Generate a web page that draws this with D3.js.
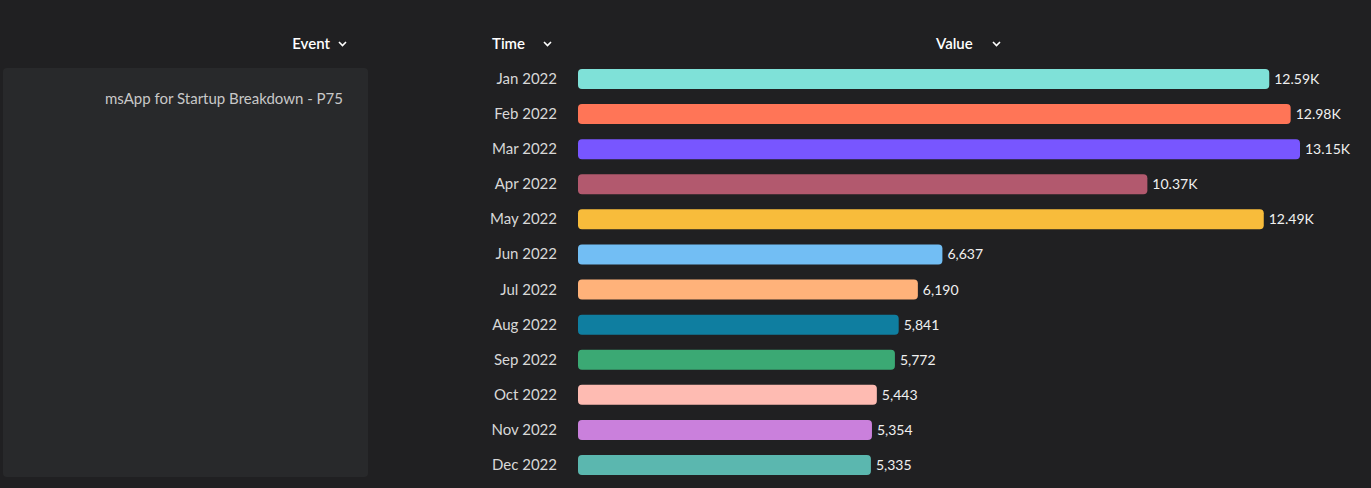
<!DOCTYPE html>
<html><head><meta charset="utf-8">
<script src="https://cdn.jsdelivr.net/npm/d3@7"></script>
<style>
body{margin:0;background:#202022;overflow:hidden}
text{font-family:Lato,"Noto Sans",sans-serif}
</style></head><body>
<svg id="chart" width="1371" height="488"></svg>
<script>
const months= ["Jan 2022","Feb 2022","Mar 2022","Apr 2022","May 2022","Jun 2022","Jul 2022","Aug 2022","Sep 2022","Oct 2022","Nov 2022","Dec 2022"];
const values= [12590,12980,13150,10370,12490,6637,6190,5841,5772,5443,5354,5335];
const valueLabels= ["12.59K","12.98K","13.15K","10.37K","12.49K","6,637","6,190","5,841","5,772","5,443","5,354","5,335"];
const colors= ["#7fe1d8","#ff7557","#7856ff","#b2596e","#f8bc3b","#72bef4","#ffb27a","#0f7ea0","#3ba974","#febbb2","#ca80dc","#5bb7af"];

const svg= d3.select("#chart");

svg.append("rect").attr("x",3).attr("y",68).attr("width",365).attr("height",409).attr("rx",4).attr("fill","#28292b");
svg.append("text").attr("x",343).attr("y",104).attr("text-anchor","end").attr("fill","#c8c8c8").attr("font-size",15).text("msApp for Startup Breakdown - P75");

function header(x, label, anchor){
    const g= svg.append("g");
    g.append("text").attr("x",x).attr("y",49).attr("text-anchor",anchor).attr("fill","#fff").attr("font-size",15).attr("font-weight",600).text(label);
}
header(330,"Event","end");
header(492,"Time","start");
header(936,"Value","start");
[[339,44],[544,44],[993,44]].forEach(([x,y])=>{
    svg.append("path").attr("d",`M${x},${y-2} l3.5,3.5 l3.5,-3.5`).attr("stroke","#fff").attr("stroke-width",1.6).attr("fill","none");
});

const x= d3.scaleLinear().domain([0,13150]).range([578,1300]);
const y= d3.scaleBand().domain(months).range([62,482]).paddingInner(0.43).paddingOuter(0.2);

svg.selectAll(".bar").data(values).enter().append("rect")
    .attr("x",x(0)).attr("y",(d,i)=>y(months[i]))
    .attr("width",d=>x(d)-x(0)).attr("height",y.bandwidth())
    .attr("rx",4).attr("fill",(d,i)=>colors[i]);

svg.selectAll(".m").data(months).enter().append("text")
    .attr("x",557).attr("y",d=>y(d)+y.bandwidth()/2+5)
    .attr("text-anchor","end").attr("fill","#d8d8d8").attr("font-size",15).text(d=>d);

svg.selectAll(".v").data(values).enter().append("text")
    .attr("x",d=>x(d)+5).attr("y",(d,i)=>y(months[i])+y.bandwidth()/2+5)
    .attr("fill","#f0f0f0").attr("font-size",14).attr("font-family","DejaVu Sans Mono, monospace")
    .text((d,i)=>valueLabels[i]);
</script></body></html>
